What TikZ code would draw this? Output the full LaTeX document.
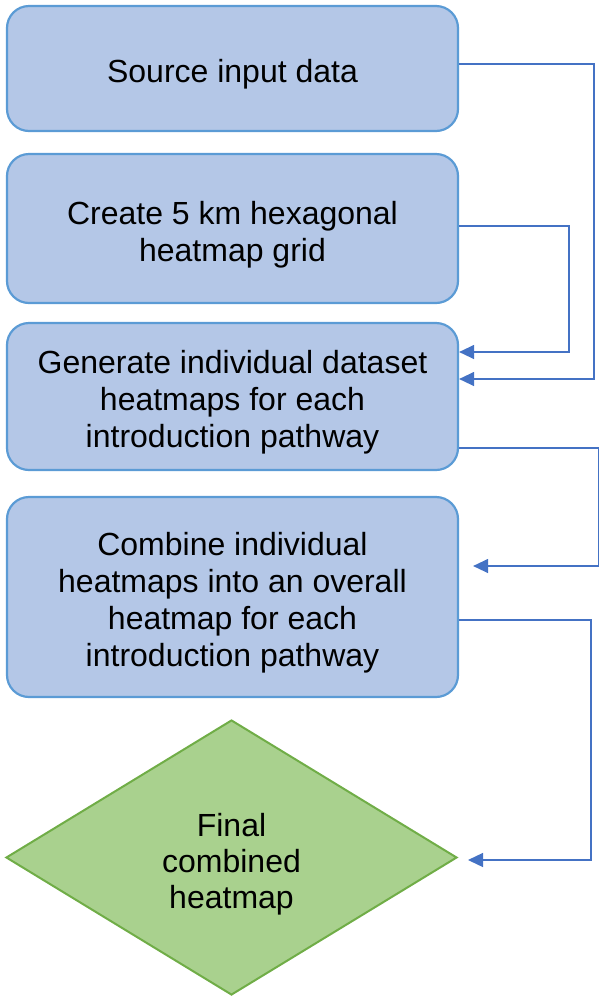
\documentclass[tikz,border=0pt]{standalone}
\usepackage{fontspec}
\setmainfont{Liberation Sans}
\usetikzlibrary{shapes.geometric,arrows.meta}
\definecolor{boxfill}{HTML}{B4C7E7}
\definecolor{boxline}{HTML}{5B9BD5}
\definecolor{dfill}{HTML}{A9D18E}
\definecolor{dline}{HTML}{70AD47}
\definecolor{conn}{HTML}{4472C4}
\newcommand\tgap{\rule{0pt}{35pt}}
\newcommand\dgap{\rule{0pt}{37pt}}
\tikzset{
  stepbox/.style={draw=boxline, fill=boxfill, line width=2.2pt, rounded corners=22pt,
    minimum width=451pt, align=center, inner sep=0pt,
    font=\fontsize{32}{37}\selectfont},
  decision/.style={diamond, draw=dline, fill=dfill, line width=2pt,
    minimum width=451pt, minimum height=275pt, inner sep=0pt, align=center,
    font=\fontsize{32}{36}\selectfont},
  link/.style={draw=conn, line width=1.3pt, -{Triangle[length=15pt,width=14pt]}}
}
\begin{document}
\begin{tikzpicture}[x=1pt,y=-1pt]
\useasboundingbox (0,0) rectangle (599,997);
\node[stepbox, minimum height=125pt] (b1) at (232.5,68.5) {\tgap Source input data};
\node[stepbox, minimum height=149pt] (b2) at (232.5,228.5) {\tgap Create 5 km hexagonal\\heatmap grid};
\node[stepbox, minimum height=147pt] (b3) at (232.5,396.5) {\tgap Generate individual dataset\\heatmaps for each\\introduction pathway};
\node[stepbox, minimum height=200pt] (b4) at (232.5,597) {\tgap Combine individual\\heatmaps into an overall\\heatmap for each\\introduction pathway};
\node[decision] (d) at (231.5,857.5) {\dgap Final\\combined\\heatmap};
\draw[link] ([yshift=4.5pt]b1.east) -- ++(135,0) |- ([yshift=17.5pt]b3.east);
\draw[link] ([yshift=2.5pt]b2.east) -- ++(110,0) |- ([yshift=44.5pt]b3.east);
\draw[link] ([yshift=-51.5pt]b3.east) -- ++(140,0) |- ([xshift=14pt,yshift=31pt]b4.east);
\draw[link] ([yshift=-23pt]b4.east) -- ++(132,0) |- ([xshift=10pt,yshift=-2.5pt]d.east);
\end{tikzpicture}
\end{document}
